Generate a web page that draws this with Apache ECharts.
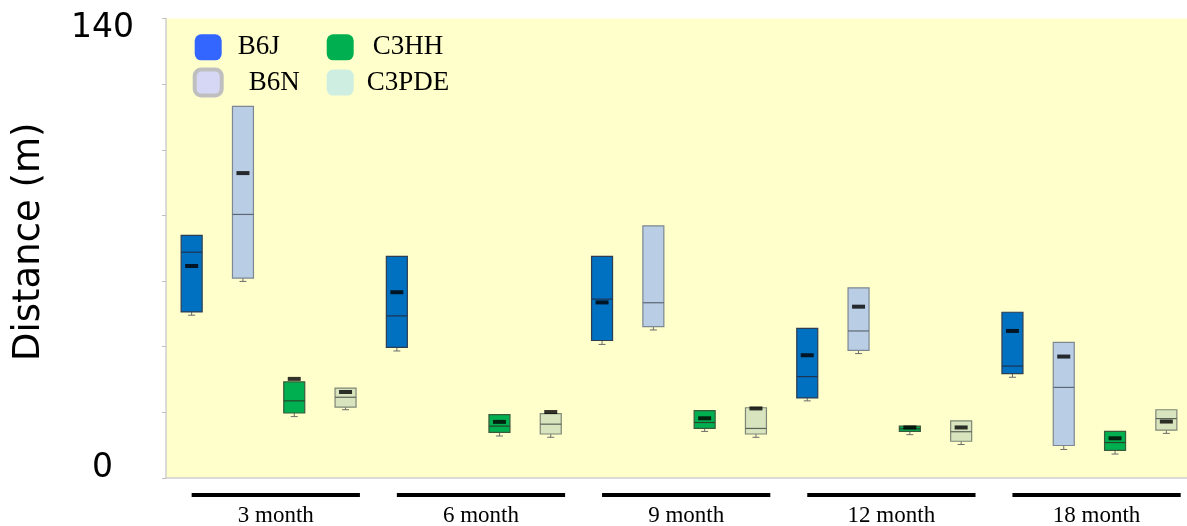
<!DOCTYPE html>
<html>
<head>
<meta charset="utf-8">
<script src="https://cdn.jsdelivr.net/npm/echarts@6/dist/echarts.min.js"></script>
<style>
  html, body { margin: 0; padding: 0; background: #fff; overflow: hidden; }
  #chart { width: 1192px; height: 526px; }
</style>
</head>
<body>
<div id="chart"></div>
<script>
  // groups along the bottom and strains inside each group
  const groups = ['3 month', '6 month', '9 month', '12 month', '18 month']
  const strains = ['B6J', 'B6N', 'C3HH', 'C3PDE']

  // each row: [whisker low, q1, median, q3], one row per group (null = no box)
  const b6jBox = [[49.6, 50.6, 68.8, 73.9], [38.7, 39.8, 49.4, 67.5], [40.7, 41.9, 54.5, 67.5], [23.5, 24.4, 30.9, 45.6], [30.7, 31.8, 34.1, 50.5]]
  const b6nBox = [[59.9, 60.9, 80.3, 113.2], null, [45.1, 46.1, 53.4, 76.8], [37.9, 38.9, 44.8, 57.9], [8.7, 9.9, 27.6, 41.3]]
  const c3hhBox = [[18.7, 19.8, 23.5, 29.3], [12.8, 13.9, 15.8, 19.3], [14.2, 15.1, 16.9, 20.5], [13.2, 14.2, 15.0, 15.8], [7.3, 8.4, 10.8, 14.2]]
  const c3pdeBox = [[20.8, 21.6, 24.6, 27.4], [12.4, 13.4, 16.4, 19.6], [12.4, 13.4, 15.1, 21.4], [10.2, 11.2, 14.1, 17.4], [13.6, 14.6, 18.1, 20.8]]

  // means (black dashes)
  const b6jMean = [64.6, 56.6, 53.5, 37.4, 44.8]
  const b6nMean = [92.9, null, null, 52.2, 37.0]
  const c3hhMean = [30.2, 17.1, 18.2, 15.4, 12.1]
  const c3pdeMean = [26.2, 20.1, 21.2, 15.4, 17.2]

  const yTicks = [0, 140]

  const boxes = [b6jBox, b6nBox, c3hhBox, c3pdeBox]
  const means = [b6jMean, b6nMean, c3hhMean, c3pdeMean]

  const fills = ['#0070c0', '#b9cde5', '#00b050', '#d7e4bd']
  const borders = ['#2e3e52', '#7c8792', '#3b5a3b', '#7e8676']
  const medians = ['#1d3552', '#5d6873', '#24452a', '#5c6258']

  // 20 slots: 5 groups x 4 strains
  let slots = []
  groups.forEach(g => strains.forEach(s => slots.push(g + ' ' + s)))

  function renderBox(params, api) {
    let idx = api.value(0)
    let x = api.coord([idx, 0])[0]
    let low = api.coord([idx, api.value(1)])[1]
    let q1 = api.coord([idx, api.value(2)])[1]
    let med = api.coord([idx, api.value(3)])[1]
    let q3 = api.coord([idx, api.value(4)])[1]
    let si = params.seriesIndex
    let w = 21
    return {
      type: 'group',
      children: [
        {type: 'line', shape: {x1: x, y1: q1, x2: x, y2: low}, style: {stroke: '#6b6b6b', lineWidth: 1}},
        {type: 'line', shape: {x1: x - 3.5, y1: low, x2: x + 3.5, y2: low}, style: {stroke: '#6b6b6b', lineWidth: 1}},
        {type: 'rect', shape: {x: x - w / 2, y: q3, width: w, height: q1 - q3},
          style: {fill: fills[si], stroke: borders[si], lineWidth: 1.2}},
        {type: 'line', shape: {x1: x - w / 2, y1: med, x2: x + w / 2, y2: med}, style: {stroke: medians[si], lineWidth: 1.2}}
      ]
    }
  }

  function renderGroup(params, api) {
    let idx = api.value(0)
    let band = api.size([1, 0])[0]
    let x0 = api.coord([idx, 0])[0] - band / 2
    let xa = x0 + band * 0.125
    let xb = x0 + band * 0.945
    let top = params.coordSys.y
    return {
      type: 'group',
      children: [
        {type: 'line', shape: {x1: xa, y1: top + 15, x2: xb, y2: top + 15}, style: {stroke: '#000', lineWidth: 4}},
        {type: 'text', x: (xa + xb) / 2, y: top + 36,
          style: {text: groups[idx], fill: '#000', font: '23px "Liberation Serif"', align: 'center', verticalAlign: 'middle'}}
      ]
    }
  }

  let series = []
  strains.forEach((s, si) => {
    let data = []
    boxes[si].forEach((b, gi) => {
      if (b) data.push([gi * 4 + si, b[0], b[1], b[2], b[3]])
    })
    series.push({
      name: s,
      type: 'custom',
      renderItem: renderBox,
      encode: {x: 0, y: [1, 2, 3, 4]},
      itemStyle: {color: fills[si]},
      data: data,
      z: 2
    })
  })
  strains.forEach((s, si) => {
    let data = []
    means[si].forEach((m, gi) => {
      if (m != null) data.push([gi * 4 + si, m])
    })
    series.push({
      name: s + ' mean',
      type: 'scatter',
      symbol: 'rect',
      symbolSize: [13, 4],
      itemStyle: {color: '#000'},
      data: data,
      z: 5,
      silent: true
    })
  })
  series.push({
    type: 'custom',
    xAxisIndex: 1,
    yAxisIndex: 1,
    renderItem: renderGroup,
    data: groups.map((g, i) => [i, 0]),
    clip: false,
    silent: true
  })

  let legendText = {fontFamily: 'Liberation Serif', fontSize: 27, color: '#000', lineHeight: 26}

  let myChart = echarts.init(document.getElementById('chart'))
  myChart.setOption({
    animation: false,
    grid: [
      {left: 166, top: 18.5, right: 0, height: 459.5, show: true, backgroundColor: '#ffffcc', borderWidth: 0},
      {left: 166, top: 480, right: 0, height: 30}
    ],
    legend: [
      {
        orient: 'vertical', left: 192.7, top: 31.3, padding: 0, itemGap: 3.3,
        itemWidth: 27, itemHeight: 26, icon: 'roundRect', selectedMode: false,
        textStyle: legendText,
        data: [
          {name: 'B6J', itemStyle: {color: '#3366ff', borderWidth: 0}, textStyle: {padding: [6, 0, 0, 11]}},
          {name: 'B6N', itemStyle: {color: '#d6d6f5', borderColor: '#bfbfbf', borderWidth: 4}, textStyle: {padding: [6, 0, 0, 22]}}
        ]
      },
      {
        orient: 'vertical', left: 326.7, top: 31.3, padding: 0, itemGap: 3.3,
        itemWidth: 27, itemHeight: 26, icon: 'roundRect', selectedMode: false,
        textStyle: legendText,
        data: [
          {name: 'C3HH', itemStyle: {color: '#00b050', borderWidth: 0}, textStyle: {padding: [6, 0, 0, 14]}},
          {name: 'C3PDE', itemStyle: {color: '#cdeee0', borderWidth: 0}, textStyle: {padding: [6, 0, 0, 8]}}
        ]
      }
    ],
    xAxis: [
      {
        type: 'category',
        gridIndex: 0,
        data: slots,
        boundaryGap: true,
        axisLine: {lineStyle: {color: '#cfcfcf', width: 1.5}},
        axisTick: {show: false},
        axisLabel: {show: false}
      },
      {type: 'category', gridIndex: 1, data: groups, show: false}
    ],
    yAxis: [
      {
        type: 'value',
        gridIndex: 0,
        min: 0,
        max: 140,
        interval: 20,
        name: 'Distance (m)',
        nameLocation: 'middle',
        nameGap: 118,
        nameTextStyle: {fontFamily: 'DejaVu Sans', fontSize: 37, color: '#000', padding: [0, 0, 0, 13]},
        axisLine: {show: true, lineStyle: {color: '#cfcfcf', width: 1.5}},
        axisTick: {show: true, length: 4, lineStyle: {color: '#bfbfbf'}},
        splitLine: {show: false},
        axisLabel: {
          margin: 32,
          formatter: v => {
            if (!yTicks.includes(v)) return ''
            return v === 0 ? '{bot|' + v + '}' : '{top|' + v + '}'
          },
          rich: {
            top: {fontFamily: 'DejaVu Sans', fontSize: 33, color: '#000', padding: [20, 0, 0, 0]},
            bot: {fontFamily: 'DejaVu Sans', fontSize: 33, color: '#000', padding: [0, 21, 20, 0]}
          }
        }
      },
      {type: 'value', gridIndex: 1, min: 0, max: 1, show: false}
    ],
    series: series
  })
</script>
</body>
</html>
